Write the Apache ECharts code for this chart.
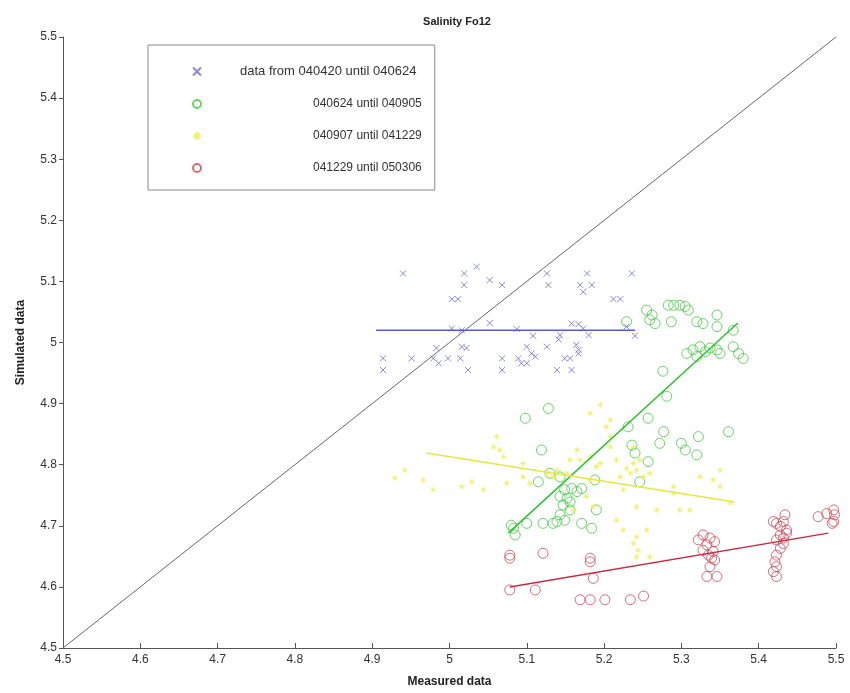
<!DOCTYPE html>
<html>
<head>
<meta charset="utf-8">
<script src="https://cdn.jsdelivr.net/npm/echarts@6/dist/echarts.min.js"></script>
<style>html,body{margin:0;padding:0;background:#fff}#c{width:850px;height:693px}</style>
</head>
<body>
<div id="c"></div>
<script>
var titleText = 'Salinity Fo12';
var xName = 'Measured data';
var yName = 'Simulated data';
var seriesNames = ['data from 040420 until 040624', '040624 until 040905', '040907 until 041229', '041229 until 050306'];

var bluePts = [
[4.940,5.113],[5.019,5.113],[5.035,5.124],[5.019,5.094],[5.052,5.102],[5.068,5.094],[5.003,5.071],[5.011,5.071],
[5.126,5.113],[5.128,5.094],[5.178,5.113],[5.169,5.094],[5.173,5.083],[5.184,5.094],[5.236,5.113],[5.212,5.071],[5.221,5.071],
[5.003,5.023],[5.016,5.020],[5.052,5.032],[5.087,5.022],[5.158,5.031],[5.167,5.030],[5.173,5.023],[5.180,5.012],
[5.143,5.012],[5.141,5.005],[5.108,5.011],[5.240,5.011],[5.229,5.026],
[4.983,4.991],[5.016,4.993],[5.022,4.991],[5.100,4.993],[5.126,4.993],[5.164,4.996],[5.167,4.988],[5.167,4.982],
[4.914,4.974],[4.951,4.974],[4.979,4.974],[4.986,4.966],[4.998,4.974],[5.014,4.974],[5.068,4.974],[5.089,4.974],
[5.093,4.966],[5.100,4.966],[5.106,4.982],[5.111,4.977],[5.149,4.974],[5.156,4.974],
[4.914,4.955],[5.024,4.955],[5.068,4.955],[5.139,4.955],[5.158,4.955]
];
var greenPts = [
[5.255,5.053],[5.262,5.045],[5.259,5.037],[5.266,5.031],[5.283,5.061],[5.290,5.061],[5.298,5.061],[5.305,5.059],
[5.287,5.034],[5.309,5.053],[5.320,5.034],[5.328,5.031],[5.346,5.045],[5.346,5.026],[5.229,5.034],
[5.307,4.982],[5.315,4.988],[5.324,4.993],[5.331,4.985],[5.337,4.991],[5.346,4.988],[5.350,4.982],[5.320,4.977],
[5.367,4.993],[5.374,4.982],[5.380,4.974],[5.367,5.020],
[5.276,4.953],[5.281,4.912],[5.128,4.892],[5.098,4.876],[5.257,4.876],[5.231,4.862],[5.277,4.854],[5.272,4.835],
[5.322,4.846],[5.300,4.835],[5.305,4.824],[5.320,4.816],[5.361,4.854],[5.119,4.824],[5.236,4.832],[5.240,4.819],
[5.257,4.805],[5.246,4.772],[5.115,4.772],[5.188,4.775],[5.130,4.786],[5.143,4.780],
[5.149,4.759],[5.158,4.761],[5.165,4.756],[5.171,4.761],[5.143,4.748],[5.152,4.745],[5.147,4.734],[5.156,4.739],
[5.156,4.726],[5.143,4.718],[5.149,4.709],[5.190,4.726],[5.121,4.704],[5.134,4.704],[5.139,4.707],[5.171,4.704],
[5.184,4.696],[5.100,4.704],[5.083,4.696],[5.085,4.685],[5.080,4.701]
];
var yellowPts = [
[4.966,4.775],[4.979,4.759],[5.016,4.764],[5.029,4.772],[5.044,4.759],[5.061,4.846],[5.065,4.824],[5.074,4.770],
[5.095,4.780],[5.104,4.770],[5.126,4.786],[5.139,4.791],[5.134,4.780],[5.152,4.786],[5.165,4.824],[5.169,4.808],
[5.182,4.775],[5.190,4.797],[5.203,4.862],[5.208,4.829],[5.216,4.808],[5.221,4.780],[5.225,4.759],[5.229,4.794],
[5.234,4.786],[5.242,4.791],[5.246,4.808],[5.251,4.780],[5.177,4.748],[5.160,4.726],[5.186,4.731],[5.216,4.709],
[5.242,4.731],[5.242,4.682],[5.244,4.660],[5.242,4.649],[5.259,4.649],[5.268,4.726],[5.298,4.726],[5.290,4.753],
[5.350,4.764],[5.350,4.791],[5.208,4.873],[5.182,4.813],[5.156,4.808],[5.057,4.829],[5.182,4.884],[5.208,4.846],
[5.238,4.829],[5.238,4.802],[5.070,4.813],[5.095,4.802],[5.195,4.802],[5.259,4.786],[5.290,4.764],[5.341,4.775],
[5.324,4.780],[5.255,4.693],[5.238,4.671],[5.311,4.726],[5.363,4.737],[5.225,4.693],[4.929,4.778],[4.942,4.791],
[5.195,4.898]
];
var redPts = [
[5.078,4.652],[5.078,4.647],[5.121,4.655],[5.182,4.647],[5.182,4.641],[5.186,4.614],[5.078,4.595],[5.111,4.595],
[5.169,4.579],[5.182,4.579],[5.201,4.579],[5.234,4.579],[5.251,4.585],
[5.322,4.677],[5.328,4.685],[5.337,4.680],[5.333,4.669],[5.343,4.674],[5.328,4.660],[5.341,4.658],[5.335,4.652],
[5.339,4.647],[5.343,4.644],[5.337,4.633],[5.333,4.617],[5.346,4.617],
[5.419,4.707],[5.423,4.704],[5.428,4.699],[5.432,4.707],[5.434,4.718],[5.436,4.693],[5.428,4.685],[5.423,4.677],
[5.432,4.671],[5.428,4.663],[5.423,4.652],[5.421,4.641],[5.423,4.633],[5.419,4.625],[5.423,4.617],[5.436,4.688],
[5.432,4.680],[5.477,4.715],[5.488,4.720],[5.497,4.726],[5.498,4.718],[5.497,4.707],[5.495,4.704]
];
var blueFit = [[4.905,5.020],[5.240,5.020]];
var greenFit = [[5.076,4.688],[5.373,5.032]];
var yellowFit = [[4.970,4.819],[5.369,4.739]];
var redFit = [[5.078,4.600],[5.490,4.688]];
var identityLine = [[4.5,4.5],[5.5,5.5]];
var axisMin = 4.5, axisMax = 5.5, axisStep = 0.1;

var FONT = 'Liberation Sans, Arial, sans-serif';
var xPath = 'path://M0,0L10,10M10,0L0,10';
var starPath = 'path://M5,0L5,10M0,5L10,5M1.5,1.5L8.5,8.5M8.5,1.5L1.5,8.5';
var cBlue = '#6b6bc8', cGreen = '#45c845', cYellow = '#eeee5a', cRed = '#c84a58';
var clear = 'rgba(255,255,255,0)';

var chart = echarts.init(document.getElementById('c'), null, {renderer: 'canvas'});
function fitLine(data, color, w) {
  return {type: 'line', data: data, symbol: 'none', silent: true,
    lineStyle: {color: color, width: w}, z: 3};
}
chart.setOption({
  animation: false,
  backgroundColor: '#fff',
  title: {text: titleText, left: 452, top: 11, textAlign: 'center',
    textStyle: {fontFamily: FONT, fontSize: 11, fontWeight: 'bold', color: '#222'}},
  grid: {left: 63, right: 14, top: 37, bottom: 45},
  legend: {
    data: seriesNames.map(function(n){return {name: n};}),
    orient: 'vertical', left: 148, top: 45,
    backgroundColor: '#fff', borderColor: '#888', borderWidth: 1,
    padding: [20, 13, 16, 44], itemGap: 20, itemWidth: 8, itemHeight: 8,
    formatter: function(name){ return seriesNames.indexOf(name) === 0 ? '{a|' + name + '}' : '{p|}{b|' + name + '}'; },
    textStyle: {fontFamily: FONT, fontSize: 12, color: '#333', padding: [0,0,0,34],
      rich: {p: {width: 73}, a: {fontFamily: FONT, fontSize: 13, color: '#333'}, b: {fontFamily: FONT, fontSize: 12, color: '#333'}}}
  },
  xAxis: {
    type: 'value', min: axisMin, max: axisMax, interval: axisStep,
    name: xName, nameLocation: 'middle', nameGap: 28,
    nameTextStyle: {fontFamily: FONT, fontSize: 12, fontWeight: 'bold', color: '#222'},
    axisLine: {lineStyle: {color: '#555'}},
    axisTick: {inside: true, length: 5, lineStyle: {color: '#555'}},
    axisLabel: {fontFamily: FONT, fontSize: 12, color: '#333', margin: 6},
    splitLine: {show: false}
  },
  yAxis: {
    type: 'value', min: axisMin, max: axisMax, interval: axisStep,
    name: yName, nameLocation: 'middle', nameGap: 36, nameRotate: 90,
    nameTextStyle: {fontFamily: FONT, fontSize: 12, fontWeight: 'bold', color: '#222'},
    axisLine: {lineStyle: {color: '#555'}},
    axisTick: {inside: false, length: 4, lineStyle: {color: '#555'}},
    axisLabel: {fontFamily: FONT, fontSize: 12, color: '#333', margin: 6},
    splitLine: {show: false}
  },
  series: [
    fitLine(identityLine, '#666', 1),
    {name: seriesNames[0], type: 'scatter', data: bluePts, symbol: xPath, symbolSize: 6,
      itemStyle: {color: clear, borderColor: cBlue, borderWidth: 1}},
    {name: seriesNames[1], type: 'scatter', data: greenPts, symbol: 'circle', symbolSize: 10,
      itemStyle: {color: clear, borderColor: cGreen, borderWidth: 1}},
    {name: seriesNames[2], type: 'scatter', data: yellowPts, symbol: starPath, symbolSize: 6,
      itemStyle: {color: clear, borderColor: cYellow, borderWidth: 1}},
    {name: seriesNames[3], type: 'scatter', data: redPts, symbol: 'circle', symbolSize: 10,
      itemStyle: {color: clear, borderColor: cRed, borderWidth: 1}},
    fitLine(blueFit, '#5a5ad0', 1.5),
    fitLine(greenFit, '#2fbf2f', 1.5),
    fitLine(yellowFit, '#e8e83a', 1.5),
    fitLine(redFit, '#c82840', 1.5)
  ]
});
</script>
</body>
</html>
